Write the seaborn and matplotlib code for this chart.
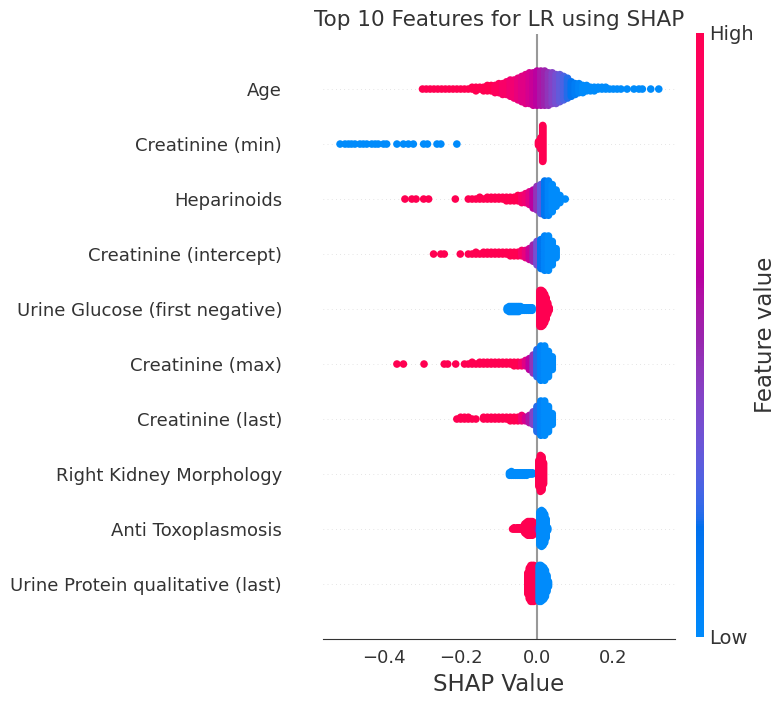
import numpy as np
import pandas as pd
import matplotlib
matplotlib.use("Agg")
import matplotlib.pyplot as plt
import seaborn as sns
from matplotlib.colors import LinearSegmentedColormap, Normalize
from matplotlib.cm import ScalarMappable

# ---------------- data ----------------
features = ["Age", "Creatinine (min)", "Heparinoids", "Creatinine (intercept)",
            "Urine Glucose (first negative)", "Creatinine (max)", "Creatinine (last)",
            "Right Kidney Morphology", "Anti Toxoplasmosis",
            "Urine Protein qualitative (last)"]

# for every feature: SHAP value bins, number of samples in each bin,
# feature value of those samples (0 = low, 1 = high)
age_shap = [-0.30, -0.29, -0.28, -0.27, -0.26, -0.25, -0.24, -0.23, -0.22, -0.21, -0.20, -0.19, -0.18,
            -0.17, -0.16, -0.15, -0.14, -0.13, -0.12, -0.11, -0.10, -0.09, -0.08, -0.07, -0.06, -0.05,
            -0.04, -0.03, -0.02, -0.01, 0.00, 0.01, 0.02, 0.03, 0.04, 0.05, 0.06, 0.07, 0.08, 0.09,
            0.10, 0.11, 0.12, 0.13, 0.14, 0.15, 0.16, 0.17, 0.18, 0.19, 0.20, 0.21, 0.22,
            0.236, 0.254, 0.267, 0.276, 0.298, 0.319]
age_n = [1, 1, 1, 1, 1, 1, 1, 1, 1, 1, 1, 1, 1,
         2, 3, 2, 3, 4, 4, 5, 6, 7, 8, 10, 11, 13,
         15, 17, 18, 19, 20, 20, 20, 19, 18, 17, 16, 14, 12, 9,
         7, 6, 5, 4, 3, 3, 2, 2, 2, 1, 1, 1, 1,
         1, 1, 1, 1, 1, 1]
age_fv = [1, 1, 1, 1, 1, 1, 1, 1, 1, 1, 1, 1, 1,
          1, 1, 1, 1, 1, 1, 0.95, 0.95, 0.9, 0.9, 0.85, 0.85, 0.8,
          0.75, 0.75, 0.7, 0.65, 0.6, 0.55, 0.5, 0.45, 0.4, 0.35, 0.3, 0.25, 0.2, 0.15,
          0.1, 0.05, 0, 0, 0, 0, 0, 0, 0, 0, 0, 0, 0,
          0, 0, 0, 0, 0, 0]

crmin_shap = [-0.516, -0.503, -0.494, -0.486, -0.477, -0.464, -0.455, -0.446, -0.433, -0.424,
              -0.416, -0.402, -0.394, -0.367, -0.350, -0.337, -0.324, -0.297, -0.287, -0.262,
              -0.252, -0.210, 0.004, 0.010, 0.015]
crmin_n = [1, 1, 1, 1, 1, 1, 1, 1, 1, 1, 1, 1, 1, 1, 1, 1, 1, 1, 1, 1, 1, 1, 4, 10, 30]
crmin_fv = [0, 0, 0, 0, 0, 0, 0, 0, 0, 0, 0, 0, 0, 0, 0, 0, 0, 0, 0, 0, 0, 0, 1, 1, 1]

hep_shap = [-0.346, -0.328, -0.317, -0.297, -0.284, -0.214,
            -0.18, -0.17, -0.16, -0.15, -0.14, -0.13, -0.12, -0.11, -0.10, -0.09, -0.08, -0.07,
            -0.06, -0.05, -0.04, -0.03, -0.02, -0.01, 0.00, 0.01, 0.02, 0.03, 0.04, 0.05, 0.06,
            0.074]
hep_n = [1, 1, 1, 1, 1, 1,
         1, 1, 1, 2, 1, 2, 2, 2, 2, 2, 3, 3,
         3, 4, 5, 6, 8, 11, 14, 17, 20, 20, 16, 10, 5,
         1]
hep_fv = [1, 1, 1, 1, 1, 1,
          1, 1, 1, 1, 1, 1, 1, 1, 1, 1, 1, 1,
          1, 1, 0.9, 0.85, 0.75, 0.6, 0.45, 0.3, 0.15, 0.05, 0, 0, 0,
          0]

crint_shap = [-0.271, -0.252, -0.243, -0.201,
              -0.18, -0.17, -0.16, -0.15, -0.14, -0.13, -0.12, -0.11, -0.10, -0.09, -0.08, -0.07,
              -0.06, -0.05, -0.04, -0.03, -0.02, -0.01, 0.00, 0.01, 0.02, 0.03, 0.04, 0.05]
crint_n = [1, 1, 1, 1,
           1, 1, 2, 1, 2, 2, 2, 2, 2, 2, 2, 3,
           3, 3, 4, 5, 7, 10, 14, 17, 20, 20, 14, 6]
crint_fv = [1, 1, 1, 1,
            1, 1, 1, 1, 1, 1, 1, 1, 1, 1, 1, 1,
            1, 1, 0.9, 0.8, 0.65, 0.5, 0.35, 0.15, 0.05, 0, 0, 0]

ug_shap = [-0.078, -0.073, -0.068, -0.063, -0.058, -0.053, -0.048, -0.043, -0.038, -0.033,
           -0.028, -0.023, -0.018, -0.013, 0.008, 0.012, 0.016, 0.020, 0.024, 0.028, 0.032]
ug_n = [3, 5, 5, 5, 5, 5, 5, 4, 3, 3, 3, 3, 3, 3, 30, 30, 28, 24, 18, 10, 3]
ug_fv = [0, 0, 0, 0, 0, 0, 0, 0, 0, 0, 0, 0, 0, 0, 1, 1, 1, 1, 1, 1, 1]

crmax_shap = [-0.367, -0.350, -0.296, -0.243, -0.234, -0.213,
              -0.19, -0.18, -0.17, -0.16, -0.15, -0.14, -0.13, -0.12, -0.11, -0.10, -0.09, -0.08,
              -0.07, -0.06, -0.05, -0.04, -0.03, -0.02, -0.01, 0.00, 0.01, 0.02, 0.03, 0.04]
crmax_n = [1, 1, 1, 1, 1, 1,
           1, 1, 2, 1, 2, 2, 2, 2, 2, 2, 2, 2,
           2, 3, 3, 3, 4, 7, 11, 16, 20, 20, 15, 8]
crmax_fv = [1, 1, 1, 1, 1, 1,
            1, 1, 1, 1, 1, 1, 1, 1, 1, 1, 1, 1,
            1, 1, 1, 0.9, 0.75, 0.6, 0.45, 0.2, 0.05, 0, 0, 0]

crlast_shap = [-0.21, -0.20, -0.19, -0.18, -0.17, -0.16,
               -0.14, -0.13, -0.12, -0.11, -0.10, -0.09, -0.08, -0.07, -0.06, -0.05,
               -0.04, -0.03, -0.02, -0.01, 0.00, 0.01, 0.02, 0.03, 0.04]
crlast_n = [1, 2, 2, 2, 1, 1,
            2, 2, 2, 2, 2, 2, 2, 3, 3, 3,
            4, 3, 5, 8, 15, 20, 20, 15, 7]
crlast_fv = [1, 1, 1, 1, 1, 1,
             1, 1, 1, 1, 1, 1, 1, 1, 1, 1,
             0.85, 0.7, 0.55, 0.4, 0.2, 0.05, 0, 0, 0]

rkm_shap = [-0.072, -0.067, -0.062, -0.057, -0.052, -0.047, -0.042, -0.037, -0.032, -0.027,
            -0.022, -0.017, -0.012, 0.005, 0.009, 0.013, 0.017]
rkm_n = [3, 4, 3, 3, 3, 3, 3, 3, 3, 3, 2, 2, 2, 22, 30, 28, 18]
rkm_fv = [0, 0, 0, 0, 0, 0, 0, 0, 0, 0, 0, 0, 0, 1, 1, 1, 1]

at_shap = [-0.064, -0.060, -0.056, -0.052, -0.048, -0.044, -0.040, -0.036, -0.032, -0.028,
           -0.024, -0.020, -0.016, -0.012, -0.008, 0.004, 0.008, 0.012, 0.016, 0.020, 0.024, 0.028]
at_n = [1, 2, 1, 2, 2, 2, 2, 4, 8, 10, 12, 12, 12, 12, 10, 3, 28, 30, 28, 24, 16, 3]
at_fv = [1, 1, 1, 1, 1, 1, 1, 1, 1, 1, 1, 1, 1, 1, 1, 0.5, 0, 0, 0, 0, 0, 0]

upq_shap = [-0.024, -0.020, -0.016, -0.012, -0.008, -0.004,
            0.006, 0.010, 0.014, 0.018, 0.022, 0.026, 0.030]
upq_n = [18, 26, 30, 30, 30, 28, 30, 30, 28, 26, 22, 14, 5]
upq_fv = [1, 1, 1, 1, 1, 1, 0, 0, 0, 0, 0, 0, 0]

shap_bins = [age_shap, crmin_shap, hep_shap, crint_shap, ug_shap,
             crmax_shap, crlast_shap, rkm_shap, at_shap, upq_shap]
counts = [age_n, crmin_n, hep_n, crint_n, ug_n, crmax_n, crlast_n, rkm_n, at_n, upq_n]
fvals = [age_fv, crmin_fv, hep_fv, crint_fv, ug_fv, crmax_fv, crlast_fv, rkm_fv, at_fv, upq_fv]

# ---------------- SHAP "red_blue" colormap (LCh interpolation) ----------------
def lch2rgb(l, c, h):
    a, b = c * np.cos(h), c * np.sin(h)
    fy = (l + 16.0) / 116.0
    fx = a / 500.0 + fy
    fz = fy - b / 200.0
    def finv(t):
        return t ** 3 if t > 0.2068966 else (t - 16.0 / 116.0) / 7.787
    xyz = np.array([finv(fx) * 0.95047, finv(fy), finv(fz) * 1.08883])
    M = np.array([[3.2404542, -1.5371385, -0.4985314],
                  [-0.9692660, 1.8760108, 0.0415560],
                  [0.0556434, -0.2040259, 1.0572252]])
    rgb = M @ xyz
    rgb = np.where(rgb > 0.0031308, 1.055 * np.abs(rgb) ** (1 / 2.4) - 0.055, 12.92 * rgb)
    return np.clip(rgb, 0, 1)

blue_lch = [54., 70., 4.6588]
red_lch = [54., 90., 0.35470565 + 2 * np.pi]
nsteps = 100
l_vals = list(np.linspace(blue_lch[0], 40., nsteps // 2)) + list(np.linspace(40., red_lch[0], nsteps // 2))
c_vals = np.linspace(blue_lch[1], red_lch[1], nsteps)
h_vals = np.linspace(blue_lch[2], red_lch[2], nsteps)
cols = [lch2rgb(l, c, h) for l, c, h in zip(l_vals, c_vals, h_vals)]
cmap = LinearSegmentedColormap.from_list("red_blue", list(zip(np.linspace(0, 1, nsteps), cols)))

# ---------------- beeswarm layout (as in shap) ----------------
frames = []
nrows = len(features)
for i, (sv, n, fv) in enumerate(zip(shap_bins, counts, fvals)):
    pos = nrows - 1 - i
    x = np.repeat(np.asarray(sv, float), n)
    c = np.repeat(np.asarray(fv, float), n)
    quant = np.round(100 * (x - x.min()) / (x.max() - x.min() + 1e-8))
    inds = np.argsort(quant, kind="stable")
    layer, last_bin = 0, -1
    ys = np.zeros(len(x))
    for ind in inds:
        if quant[ind] != last_bin:
            layer = 0
        ys[ind] = np.ceil(layer / 2) * ((layer % 2) * 2 - 1)
        layer += 1
        last_bin = quant[ind]
    ys *= 0.9 * (0.4 / np.max(ys + 1))
    frames.append(pd.DataFrame({"shap": x, "y": pos + ys, "fv": c}))
df = pd.concat(frames, ignore_index=True)

# ---------------- plot ----------------
sns.set_style("white")
plt.rcParams["font.family"] = ["DejaVu Sans"]
axis_color = "#333333"

fig = plt.figure(figsize=(7.77, 7.02), dpi=100)
ax = fig.add_axes([0.4157, 0.0897, 0.4530, 0.8618])

for p in range(nrows):
    ax.axhline(p, color="#cccccc", lw=0.5, dashes=(1, 5), zorder=-1)
ax.axvline(0, color="#999999", zorder=-1)

sns.scatterplot(data=df, x="shap", y="y", hue="fv", palette=cmap, hue_norm=(0, 1),
                s=30, linewidth=0, legend=False, ax=ax, zorder=3)

ax.set_xlim(-0.5607, 0.3615)
ax.set_ylim(-1, nrows)
ax.set_yticks(range(nrows))
ax.set_yticklabels(features[::-1], fontsize=13)
ax.set_xticks([-0.4, -0.2, 0.0, 0.2])
ax.tick_params(axis="x", labelsize=13, color=axis_color, labelcolor=axis_color,
               length=4, width=1)
ax.tick_params(axis="y", length=0, pad=29.5, labelcolor=axis_color)
for s in ["top", "right", "left"]:
    ax.spines[s].set_visible(False)
ax.spines["bottom"].set_color(axis_color)
ax.set_xlabel("SHAP Value", fontsize=16.5, color=axis_color)
ax.set_ylabel("")
ax.set_title("Top 10 Features for LR using SHAP", fontsize=15.5, color=axis_color)

cax = fig.add_axes([0.8958, 0.0926, 0.0103, 0.8604])
sm = ScalarMappable(norm=Normalize(0, 1), cmap=cmap)
sm.set_array([])
cb = fig.colorbar(sm, cax=cax, ticks=[0, 1])
cb.set_ticklabels(["Low", "High"])
cb.set_label("Feature value", size=16.5, labelpad=0, color=axis_color)
cb.ax.tick_params(labelsize=14, length=0, labelcolor=axis_color)
cb.outline.set_visible(False)

fig.savefig("out.png", dpi=100)
